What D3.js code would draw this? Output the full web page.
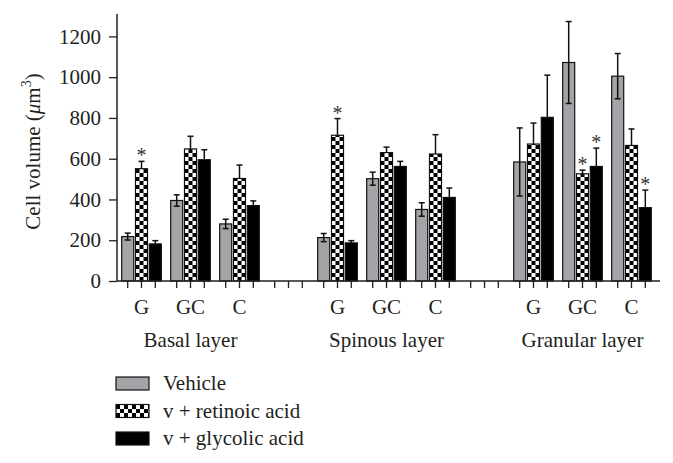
<!DOCTYPE html>
<html>
<head>
<meta charset="utf-8">
<script src="https://cdn.jsdelivr.net/npm/d3@7"></script>
<style>
  html, body { margin: 0; padding: 0; background: #fff; }
  svg { display: block; }
  text { font-family: "Liberation Serif", "DejaVu Serif", serif; fill: #231f20; }
</style>
</head>
<body>
<svg id="chart" width="673" height="463"></svg>
<script>
// ---- data ----
const layers = ["Basal layer", "Spinous layer", "Granular layer"];
const groups = ["G", "GC", "C"];
const seriesNames = ["Vehicle", "v + retinoic acid", "v + glycolic acid"];
// values per layer x group (Basal G, GC, C, Spinous G, GC, C, Granular G, GC, C)
const vehicle      = [218, 395, 280, 213, 502, 351, 584, 1072, 1005];
const vehicleErr   = [17, 28, 23, 20, 32, 33, 167, 201, 111];
const retinoic     = [551, 648, 503, 715, 630, 623, 672, 526, 665];
const retinoicErr  = [36, 62, 66, 82, 27, 95, 103, 18, 81];
const glycolic     = [182, 595, 370, 187, 562, 410, 803, 562, 360];
const glycolicErr  = [16, 49, 23, 11, 25, 46, 207, 90, 86];
const retinoicStar = [true, false, false, true, false, false, false, true, false];
const glycolicStar = [false, false, false, false, false, false, false, true, true];
const yTicks = [0, 200, 400, 600, 800, 1000, 1200];
const yMax = 1310;
const yLabel = "Cell volume (";

// ---- layout ----
const svg = d3.select("#chart");
const x0 = 117, xEnd = 660, yBase = 281, yTop = 14;
const FS = 21;

// slots: 3 groups per layer, plus an empty slot between layers
const slots = [];
layers.forEach((L, li) => {
  groups.forEach(g => slots.push(L + "|" + g));
  if (li < layers.length - 1) slots.push("gap" + li);
});

const xGroup = d3.scaleBand().domain(slots).range([117, 656])
  .paddingInner(0.155).paddingOuter(0.0775);
const xInner = d3.scaleBand().domain(seriesNames).range([0, xGroup.bandwidth()]).padding(0);
const barW = xInner.bandwidth() * 0.87;
const y = d3.scaleLinear().domain([0, yMax]).range([yBase, yTop]);

const seriesData = [
  {name: seriesNames[0], vals: vehicle, errs: vehicleErr, stars: null, both: true},
  {name: seriesNames[1], vals: retinoic, errs: retinoicErr, stars: retinoicStar, both: false},
  {name: seriesNames[2], vals: glycolic, errs: glycolicErr, stars: glycolicStar, both: false}
];

const bars = [];
layers.forEach((L, li) => groups.forEach((g, gi) => {
  const idx = li * 3 + gi;
  seriesData.forEach((s, si) => {
    bars.push({slot: L + "|" + g, series: s.name, si, v: s.vals[idx], e: s.errs[idx],
      star: s.stars ? s.stars[idx] : false, both: s.both, idx});
  });
}));
const cx = d => xGroup(d.slot) + xInner(d.series) + xInner.bandwidth() / 2;

// ---- patterns ----
const defs = svg.append("defs");
function checker(id, px, py) {
  const p = defs.append("pattern").attr("id", id).attr("patternUnits", "userSpaceOnUse")
    .attr("x", px).attr("y", py).attr("width", 8).attr("height", 8);
  p.append("rect").attr("width", 8).attr("height", 8).attr("fill", "#fff");
  p.append("rect").attr("width", 4).attr("height", 4).attr("fill", "#000");
  p.append("rect").attr("x", 4).attr("y", 4).attr("width", 4).attr("height", 4).attr("fill", "#000");
}
const fills = ["#a4a4a8", null, "#000"];

// ---- bars ----
const gBars = svg.append("g");
bars.forEach((d, i) => {
  let fill = fills[d.si];
  if (d.si === 1) {
    const id = "chk" + i;
    checker(id, cx(d) - barW / 2, yBase);
    fill = "url(#" + id + ")";
  }
  gBars.append("rect")
    .attr("x", cx(d) - barW / 2).attr("y", y(d.v))
    .attr("width", barW).attr("height", yBase - y(d.v))
    .attr("fill", fill).attr("stroke", "#111").attr("stroke-width", 1.2);
});

// ---- error bars ----
const gErr = svg.append("g").attr("stroke", "#111").attr("stroke-width", 1.5).attr("fill", "none");
bars.forEach(d => {
  const c = cx(d), top = y(d.v + d.e), bot = d.both ? y(d.v - d.e) : y(d.v);
  gErr.append("line").attr("x1", c).attr("x2", c).attr("y1", top).attr("y2", bot);
  gErr.append("line").attr("x1", c - 3).attr("x2", c + 3).attr("y1", top).attr("y2", top);
  if (d.both) gErr.append("line").attr("x1", c - 3).attr("x2", c + 3).attr("y1", bot).attr("y2", bot);
});

// ---- stars ----
svg.append("g").selectAll("text").data(bars.filter(d => d.star)).join("text")
  .attr("x", d => cx(d)).attr("y", d => y(d.v + d.e) + 1)
  .attr("text-anchor", "middle").attr("font-size", 20).style("fill", "#333")
  .text("*");

// ---- y axis ----
const yAxis = svg.append("g").attr("transform", `translate(${x0},0)`)
  .call(d3.axisLeft(y).tickValues(yTicks).tickSize(8).tickPadding(8).tickFormat(d3.format("d")));
yAxis.select(".domain").remove();
yAxis.append("line").attr("x1", 0).attr("x2", 0).attr("y1", yTop).attr("y2", yBase)
  .attr("stroke", "#231f20").attr("stroke-width", 1.5);
yAxis.selectAll(".tick line").attr("stroke", "#231f20").attr("stroke-width", 1.3);
yAxis.selectAll(".tick text").attr("font-size", FS).style("font-family", "Liberation Serif").style("fill", "#231f20");

// ---- x axis ----
svg.append("line").attr("x1", x0).attr("x2", xEnd).attr("y1", yBase).attr("y2", yBase)
  .attr("stroke", "#231f20").attr("stroke-width", 1.5);
const tickXs = [];
slots.forEach(s => seriesNames.forEach(n => tickXs.push(xGroup(s) + xInner(n) + xInner.bandwidth() / 2)));
svg.append("g").selectAll("line").data(tickXs).join("line")
  .attr("x1", d => d).attr("x2", d => d).attr("y1", yBase).attr("y2", yBase + 7)
  .attr("stroke", "#231f20").attr("stroke-width", 1.3);

// group labels
const gl = [];
layers.forEach(L => groups.forEach(g => gl.push({slot: L + "|" + g, g})));
svg.append("g").selectAll("text").data(gl).join("text")
  .attr("x", d => xGroup(d.slot) + xGroup.bandwidth() / 2).attr("y", 314)
  .attr("text-anchor", "middle").attr("font-size", FS).text(d => d.g);
// layer labels
svg.append("g").selectAll("text").data(layers).join("text")
  .attr("x", L => xGroup(L + "|" + groups[1]) + xGroup.bandwidth() / 2).attr("y", 347)
  .attr("text-anchor", "middle").attr("font-size", FS).text(L => L);

// ---- y label ----
const yl = svg.append("text").attr("transform", "translate(40,151.5) rotate(-90)")
  .attr("text-anchor", "middle").attr("font-size", 21);
yl.append("tspan").text(yLabel);
yl.append("tspan").attr("font-style", "italic").text("\u03bc");
yl.append("tspan").text("m");
yl.append("tspan").attr("font-size", 14).attr("dy", -9).text("3");
yl.append("tspan").attr("dy", 9).text(")");

// ---- legend ----
const lg = svg.append("g");
checker("chkLegend", 116, 405);
const legendFills = [fills[0], "url(#chkLegend)", fills[2]];
seriesNames.forEach((n, i) => {
  const top = 377 + i * 27.5;
  lg.append("rect").attr("x", 116).attr("y", top).attr("width", 33).attr("height", 13)
    .attr("fill", legendFills[i]).attr("stroke", "#111").attr("stroke-width", 1.2);
  lg.append("text").attr("x", 163).attr("y", top + 13).attr("font-size", FS).text(n);
});
</script>
</body>
</html>
